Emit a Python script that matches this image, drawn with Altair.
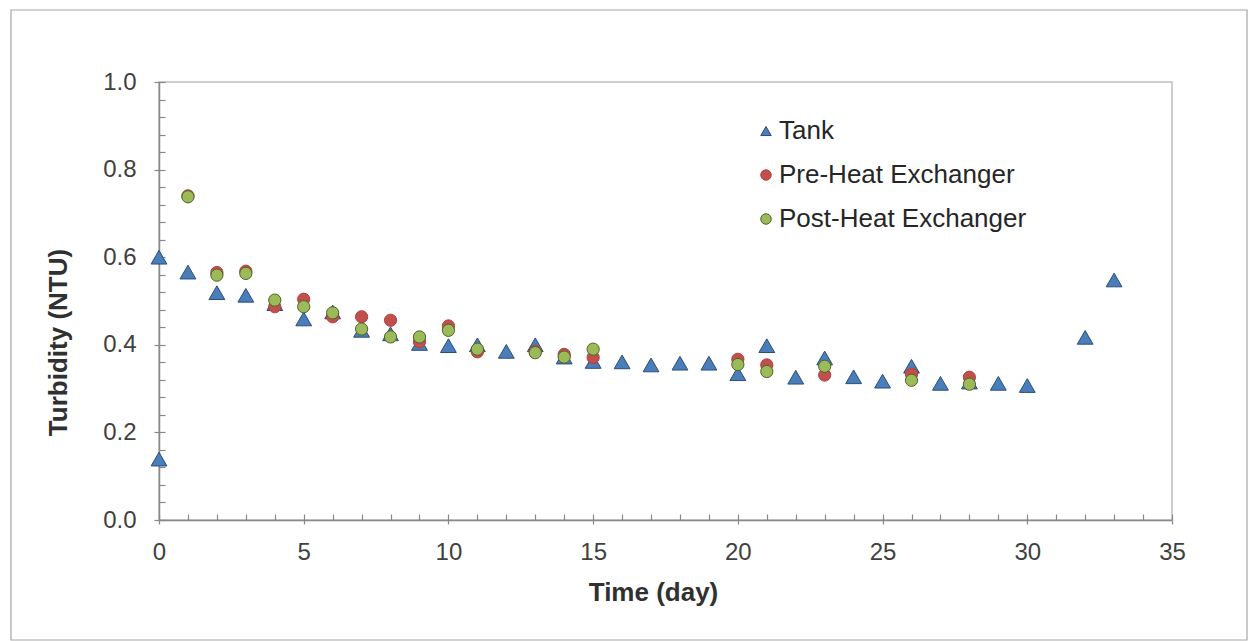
import altair as alt
import pandas as pd

series_names = ["Tank", "Pre-Heat Exchanger", "Post-Heat Exchanger"]

tank_day = [0, 0, 1, 2, 3, 4, 5, 6, 7, 8, 9, 10, 11, 12, 13, 14, 15, 16, 17, 18, 19,
            20, 21, 22, 23, 24, 25, 26, 27, 28, 29, 30, 32, 33]
tank_ntu = [0.600, 0.139, 0.566, 0.519, 0.513, 0.494, 0.459, 0.475, 0.433, 0.425, 0.403,
            0.398, 0.400, 0.385, 0.400, 0.372, 0.362, 0.361, 0.354, 0.358, 0.358,
            0.334, 0.398, 0.326, 0.370, 0.327, 0.317, 0.351, 0.312, 0.315, 0.312, 0.307,
            0.417, 0.548]

pre_day = [1, 2, 3, 4, 5, 6, 7, 8, 9, 10, 11, 13, 14, 15, 20, 21, 23, 26, 28]
pre_ntu = [0.740, 0.565, 0.568, 0.487, 0.504, 0.464, 0.464, 0.456, 0.407, 0.443,
           0.384, 0.385, 0.378, 0.371, 0.367, 0.354, 0.331, 0.333, 0.326]

post_day = [1, 2, 3, 4, 5, 6, 7, 8, 9, 10, 11, 13, 14, 15, 20, 21, 23, 26, 28]
post_ntu = [0.738, 0.559, 0.563, 0.502, 0.487, 0.473, 0.436, 0.418, 0.418, 0.433,
            0.390, 0.382, 0.372, 0.390, 0.355, 0.339, 0.351, 0.319, 0.310]

x_major = [0, 5, 10, 15, 20, 25, 30, 35]
x_minor = list(range(0, 36))
y_major = [0.0, 0.2, 0.4, 0.6, 0.8, 1.0]
y_minor = [0.0, 0.04, 0.08, 0.12, 0.16, 0.2, 0.24, 0.28, 0.32, 0.36, 0.4, 0.44, 0.48,
           0.52, 0.56, 0.6, 0.64, 0.68, 0.72, 0.76, 0.8, 0.84, 0.88, 0.92, 0.96, 1.0]

fills = ["#4A7EBB", "#C0504D", "#9BBB59"]
strokes = ["#2C4D75", "#B3403D", "#4F6228"]
shapes = ["triangle-up", "circle", "circle"]
sizes = [250, 150, 150]

tank_df = pd.DataFrame({"day": tank_day, "ntu": tank_ntu, "series": series_names[0]})
pre_df = pd.DataFrame({"day": pre_day, "ntu": pre_ntu, "series": series_names[1]})
post_df = pd.DataFrame({"day": post_day, "ntu": post_ntu, "series": series_names[2]})
all_df = pd.concat([tank_df, pre_df, post_df], ignore_index=True)

W, H = 1013, 438
FONT = "Liberation Sans"
AXIS_GREY = "#898989"
TEXT = "#404040"

xscale = alt.Scale(domain=[0, 35], nice=False, zero=False)
yscale = alt.Scale(domain=[0, 1], nice=False, zero=False)

x_main = alt.X("day:Q", scale=xscale,
               axis=alt.Axis(values=x_major, title="Time (day)", grid=False,
                             tickSize=4, labelPadding=16, labelFontSize=24, labelFlush=False,
                             labelFont=FONT, labelColor=TEXT,
                             titleFont=FONT, titleFontSize=26, titleFontWeight="bold",
                             titleColor="#303030", titleX=494, titleY=80,
                             titleAlign="center", titleBaseline="alphabetic",
                             domainColor=AXIS_GREY, tickColor=AXIS_GREY,
                             domainWidth=1.5, tickWidth=1.2))
y_main = alt.Y("ntu:Q", scale=yscale,
               axis=alt.Axis(values=y_major, format=".1f", title="Turbidity (NTU)", grid=False,
                             tickSize=5, labelPadding=18, labelFontSize=24, labelFlush=False,
                             labelFont=FONT, labelColor=TEXT,
                             titleFont=FONT, titleFontSize=26, titleFontWeight="bold",
                             titleColor="#303030", titleX=-93, titleY=260,
                             titleAlign="center", titleBaseline="alphabetic", titleAngle=270,
                             domainColor=AXIS_GREY, tickColor=AXIS_GREY,
                             domainWidth=1.5, tickWidth=1.2))

legend = alt.Legend(title=None)
fill_enc = alt.Fill("series:N", scale=alt.Scale(domain=series_names, range=fills), legend=legend)
stroke_enc = alt.Stroke("series:N", scale=alt.Scale(domain=series_names, range=strokes), legend=legend)
shape_enc = alt.Shape("series:N", scale=alt.Scale(domain=series_names, range=shapes), legend=legend)

frame = alt.Chart(pd.DataFrame({"f": [0]})).mark_rect(
    fill=None, stroke="#A6A6A6", strokeWidth=1.2
).encode(x=alt.value(-148), x2=alt.value(1088), y=alt.value(-72), y2=alt.value(558))


def series_layer(data, size):
    return alt.Chart(data).mark_point(filled=True, opacity=1, strokeWidth=1, size=size).encode(
        x=x_main, y=y_main, fill=fill_enc, stroke=stroke_enc, shape=shape_enc
    )


tank_layer = series_layer(tank_df, sizes[0])
pre_layer = series_layer(pre_df, sizes[1])
post_layer = series_layer(post_df, sizes[2])

inner = alt.Chart(all_df).mark_point(opacity=0).encode(
    x=alt.X("day:Q", scale=xscale,
            axis=alt.Axis(orient="top", offset=-H, values=x_minor, labels=False,
                          domain=False, title=None, grid=False, tickSize=6,
                          tickColor=AXIS_GREY, tickWidth=1.2)),
    y=alt.Y("ntu:Q", scale=yscale,
            axis=alt.Axis(orient="right", offset=-W, values=y_minor, labels=False,
                          domain=False, title=None, grid=False, tickSize=6,
                          tickColor=AXIS_GREY, tickWidth=1.2)),
)

main = alt.layer(tank_layer, pre_layer, post_layer)

chart = alt.layer(frame, main, inner).resolve_axis(
    x="independent", y="independent"
).properties(
    width=W, height=H,
    autosize=alt.AutoSizeParams(type="none"),
    padding={"left": 159, "top": 82, "right": 76, "bottom": 121},
    background="white",
).configure_view(
    stroke="#BFBFBF", strokeWidth=1.5
).configure_legend(
    orient="none", legendX=594, legendY=36, direction="vertical",
    labelFont=FONT, labelFontSize=26, labelColor="#262626", labelLimit=0,
    labelOffset=0, rowPadding=18, symbolSize=110, symbolStrokeWidth=1,
    padding=0,
)

chart.save("out.html", embed_options={"renderer": "svg", "actions": False})
